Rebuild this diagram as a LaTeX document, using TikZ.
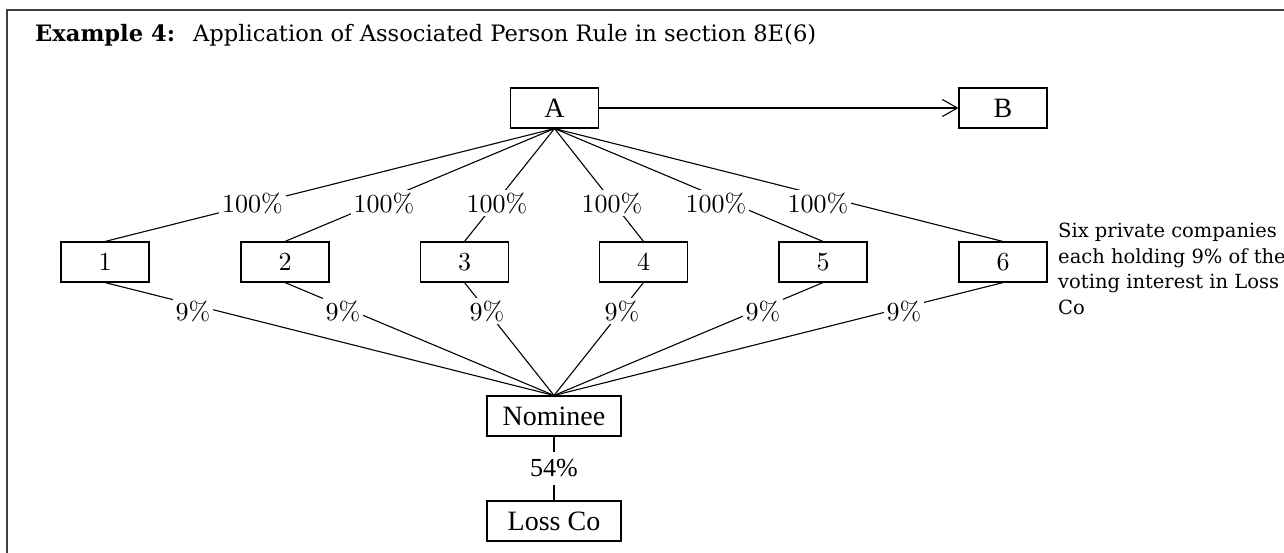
\documentclass[tikz,border=0pt]{standalone}
\usepackage{fontspec}
\newfontfamily\timesf{Liberation Serif}
\newfontfamily\charf{DejaVu Serif}
\newfontfamily\cmten{lmroman10-regular}[Extension=.otf]
\usetikzlibrary{arrows.meta}
\tikzset{
  box/.style={draw, line width=1.1pt, minimum width=88pt, minimum height=40pt, inner sep=0pt,
    font=\cmten\fontsize{26}{30}\selectfont},
  tbox/.style={box, font=\timesf\fontsize{28}{32}\selectfont},
  wbox/.style={tbox, minimum width=134pt},
  pct/.style={fill=white, inner xsep=3pt, inner ysep=3pt, font=\cmten\fontsize{26}{30}\selectfont},
  tpct/.style={pct, inner xsep=2pt, inner ysep=7.5pt, font=\timesf\fontsize{26}{30}\selectfont},
  link/.style={line width=1.1pt},
  frame/.style={line width=1.8pt, black!75}
}
\begin{document}
\begin{tikzpicture}[x=1pt, y=-1pt]
\useasboundingbox (0,0) rectangle (1284,552);
\draw[frame] (7,600) -- (7,10) -- (1320,10);
\node[anchor=base west, inner sep=0pt, font=\charf\fontsize{22.6}{27}\selectfont] (title) at (35,41)
  {\textbf{Example 4:}\hspace{18pt}Application of Associated Person Rule in section 8E(6)};
% nodes
\node[tbox] (A) at (554.5,108) {A};
\node[tbox] (B) at (1003,108) {B};
\node[box] (b1) at (105,262) {1};
\node[box] (b2) at (285,262) {2};
\node[box] (b3) at (464.5,262) {3};
\node[box] (b4) at (643.5,262) {4};
\node[box] (b5) at (823,262) {5};
\node[box] (b6) at (1003,262) {6};
\node[wbox] (N) at (554,416) {Nominee};
\node[wbox] (L) at (554,521) {Loss Co};
\node[anchor=north west, align=left, inner sep=0pt, font=\charf\fontsize{19.5}{25.5}\selectfont] (note) at (1058,223)
  {Six private companies\\each holding 9\% of the\\voting interest in Loss\\Co};
% connectors
\draw[link, -{Straight Barb[length=15pt, width=17pt, line width=1.1pt]}] (A) -- (B);
\foreach \i in {1,...,6}{
  \draw[link] (A.south) -- (b\i.north);
  \draw[link] (b\i.south) -- (N.north);
}
\draw[link] (N) -- (L);
% labels
\node[pct] (p1) at (252.5,203) {100\%};
\node[pct] (p2) at (384,203) {100\%};
\node[pct] (p3) at (497,203) {100\%};
\node[pct] (p4) at (612,203) {100\%};
\node[pct] (p5) at (716,203) {100\%};
\node[pct] (p6) at (818,203) {100\%};
\node[pct] (q1) at (193,311) {9\%};
\node[pct] (q2) at (343,311) {9\%};
\node[pct] (q3) at (487,311) {9\%};
\node[pct] (q4) at (622,311) {9\%};
\node[pct] (q5) at (763,311) {9\%};
\node[pct] (q6) at (904,311) {9\%};
\node[tpct] (m) at (554,468.5) {54\%};
\end{tikzpicture}
\end{document}
